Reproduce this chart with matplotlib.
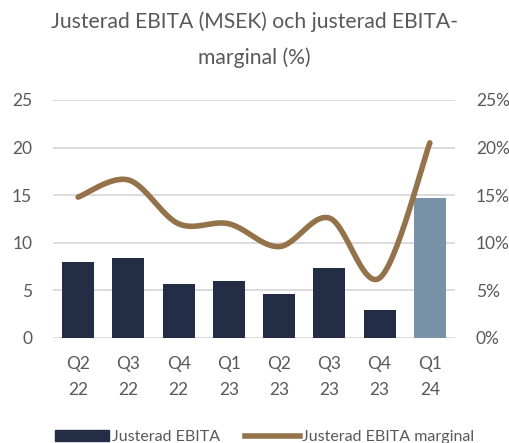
import numpy as np
import matplotlib
matplotlib.use("Agg")
import matplotlib.pyplot as plt
from matplotlib.patches import Patch
from matplotlib.lines import Line2D

categories = ["Q2\n22", "Q3\n22", "Q4\n22", "Q1\n23", "Q2\n23", "Q3\n23", "Q4\n23", "Q1\n24"]
ebita = [8.0, 8.4, 5.7, 5.95, 4.6, 7.4, 2.9, 14.7]
margin = [14.8, 16.6, 12.0, 12.0, 9.6, 12.6, 6.3, 20.5]
left_ticks = [0, 5, 10, 15, 20, 25]
right_ticks = [0, 5, 10, 15, 20, 25]

navy = "#232D45"
light = "#7892A8"
brown = "#94724A"
grid = "#D9D9D9"
txt = "#595959"

plt.rcParams['font.family'] = ['Lato', 'DejaVu Sans']

fig = plt.figure(figsize=(5.09, 4.43), dpi=100)
ax = fig.add_axes([53/509, 1-338/443, (455-53)/509, (338-100)/443])
x = np.arange(len(categories))
colors = [navy]*(len(categories)-1) + [light]
ax.bar(x, ebita, width=0.64, color=colors, zorder=3)
ax.set_xlim(-0.5, len(categories)-0.5)
ax.set_ylim(0, 25)
ax.set_yticks(left_ticks)
ax.set_yticklabels([str(t) for t in left_ticks])
ax.set_xticks(x)
ax.set_xticklabels(categories, linespacing=1.75)
for y in left_ticks:
    ax.axhline(y, color=grid, lw=1.3, zorder=1)
for s in ax.spines.values():
    s.set_visible(False)
ax.tick_params(length=0, colors=txt, labelsize=12.5)
ax.tick_params(axis='y', pad=15)
ax.tick_params(axis='x', pad=13)

ax2 = ax.twinx()
ax2.set_ylim(0, 25)
ax2.set_yticks(right_ticks)
ax2.set_yticklabels([f"{t}%" for t in right_ticks])
for s in ax2.spines.values():
    s.set_visible(False)
ax2.tick_params(length=0, colors=txt, labelsize=12.5, pad=15)

# Catmull-Rom smoothing (Excel-like smoothed line)
P = np.column_stack([x.astype(float), np.array(margin, float)])
pts = []
n = len(P)
for i in range(n-1):
    p0 = P[i-1] if i > 0 else P[i]
    p1 = P[i]
    p2 = P[i+1]
    p3 = P[i+2] if i+2 < n else P[i+1]
    c1 = p1 + (p2 - p0)/6
    c2 = p2 - (p3 - p1)/6
    t = np.linspace(0, 1, 30)[:, None]
    seg = (1-t)**3*p1 + 3*(1-t)**2*t*c1 + 3*(1-t)*t**2*c2 + t**3*p2
    pts.append(seg if i == 0 else seg[1:])
curve = np.vstack(pts)
ax2.plot(curve[:, 0], curve[:, 1], color=brown, lw=4, solid_capstyle='round', zorder=4)

fig.text(0.5, 1-22/443, "Justerad EBITA (MSEK) och justerad EBITA-", ha='center', va='center',
         fontsize=15.2, color=txt)
fig.text(0.5, 1-58/443, "marginal (%)", ha='center', va='center', fontsize=15.2, color=txt)

handles = [Patch(color=navy), Line2D([0], [0], color=brown, lw=4)]
fig.legend(handles, ["Justerad EBITA", "Justerad EBITA marginal"], loc='center',
           bbox_to_anchor=(0.52, 1-437/443), ncol=2, frameon=False, fontsize=11.5,
           handlelength=3.4, handletextpad=0.15, columnspacing=1.6, labelcolor=txt)

fig.savefig("out.png", dpi=100)
